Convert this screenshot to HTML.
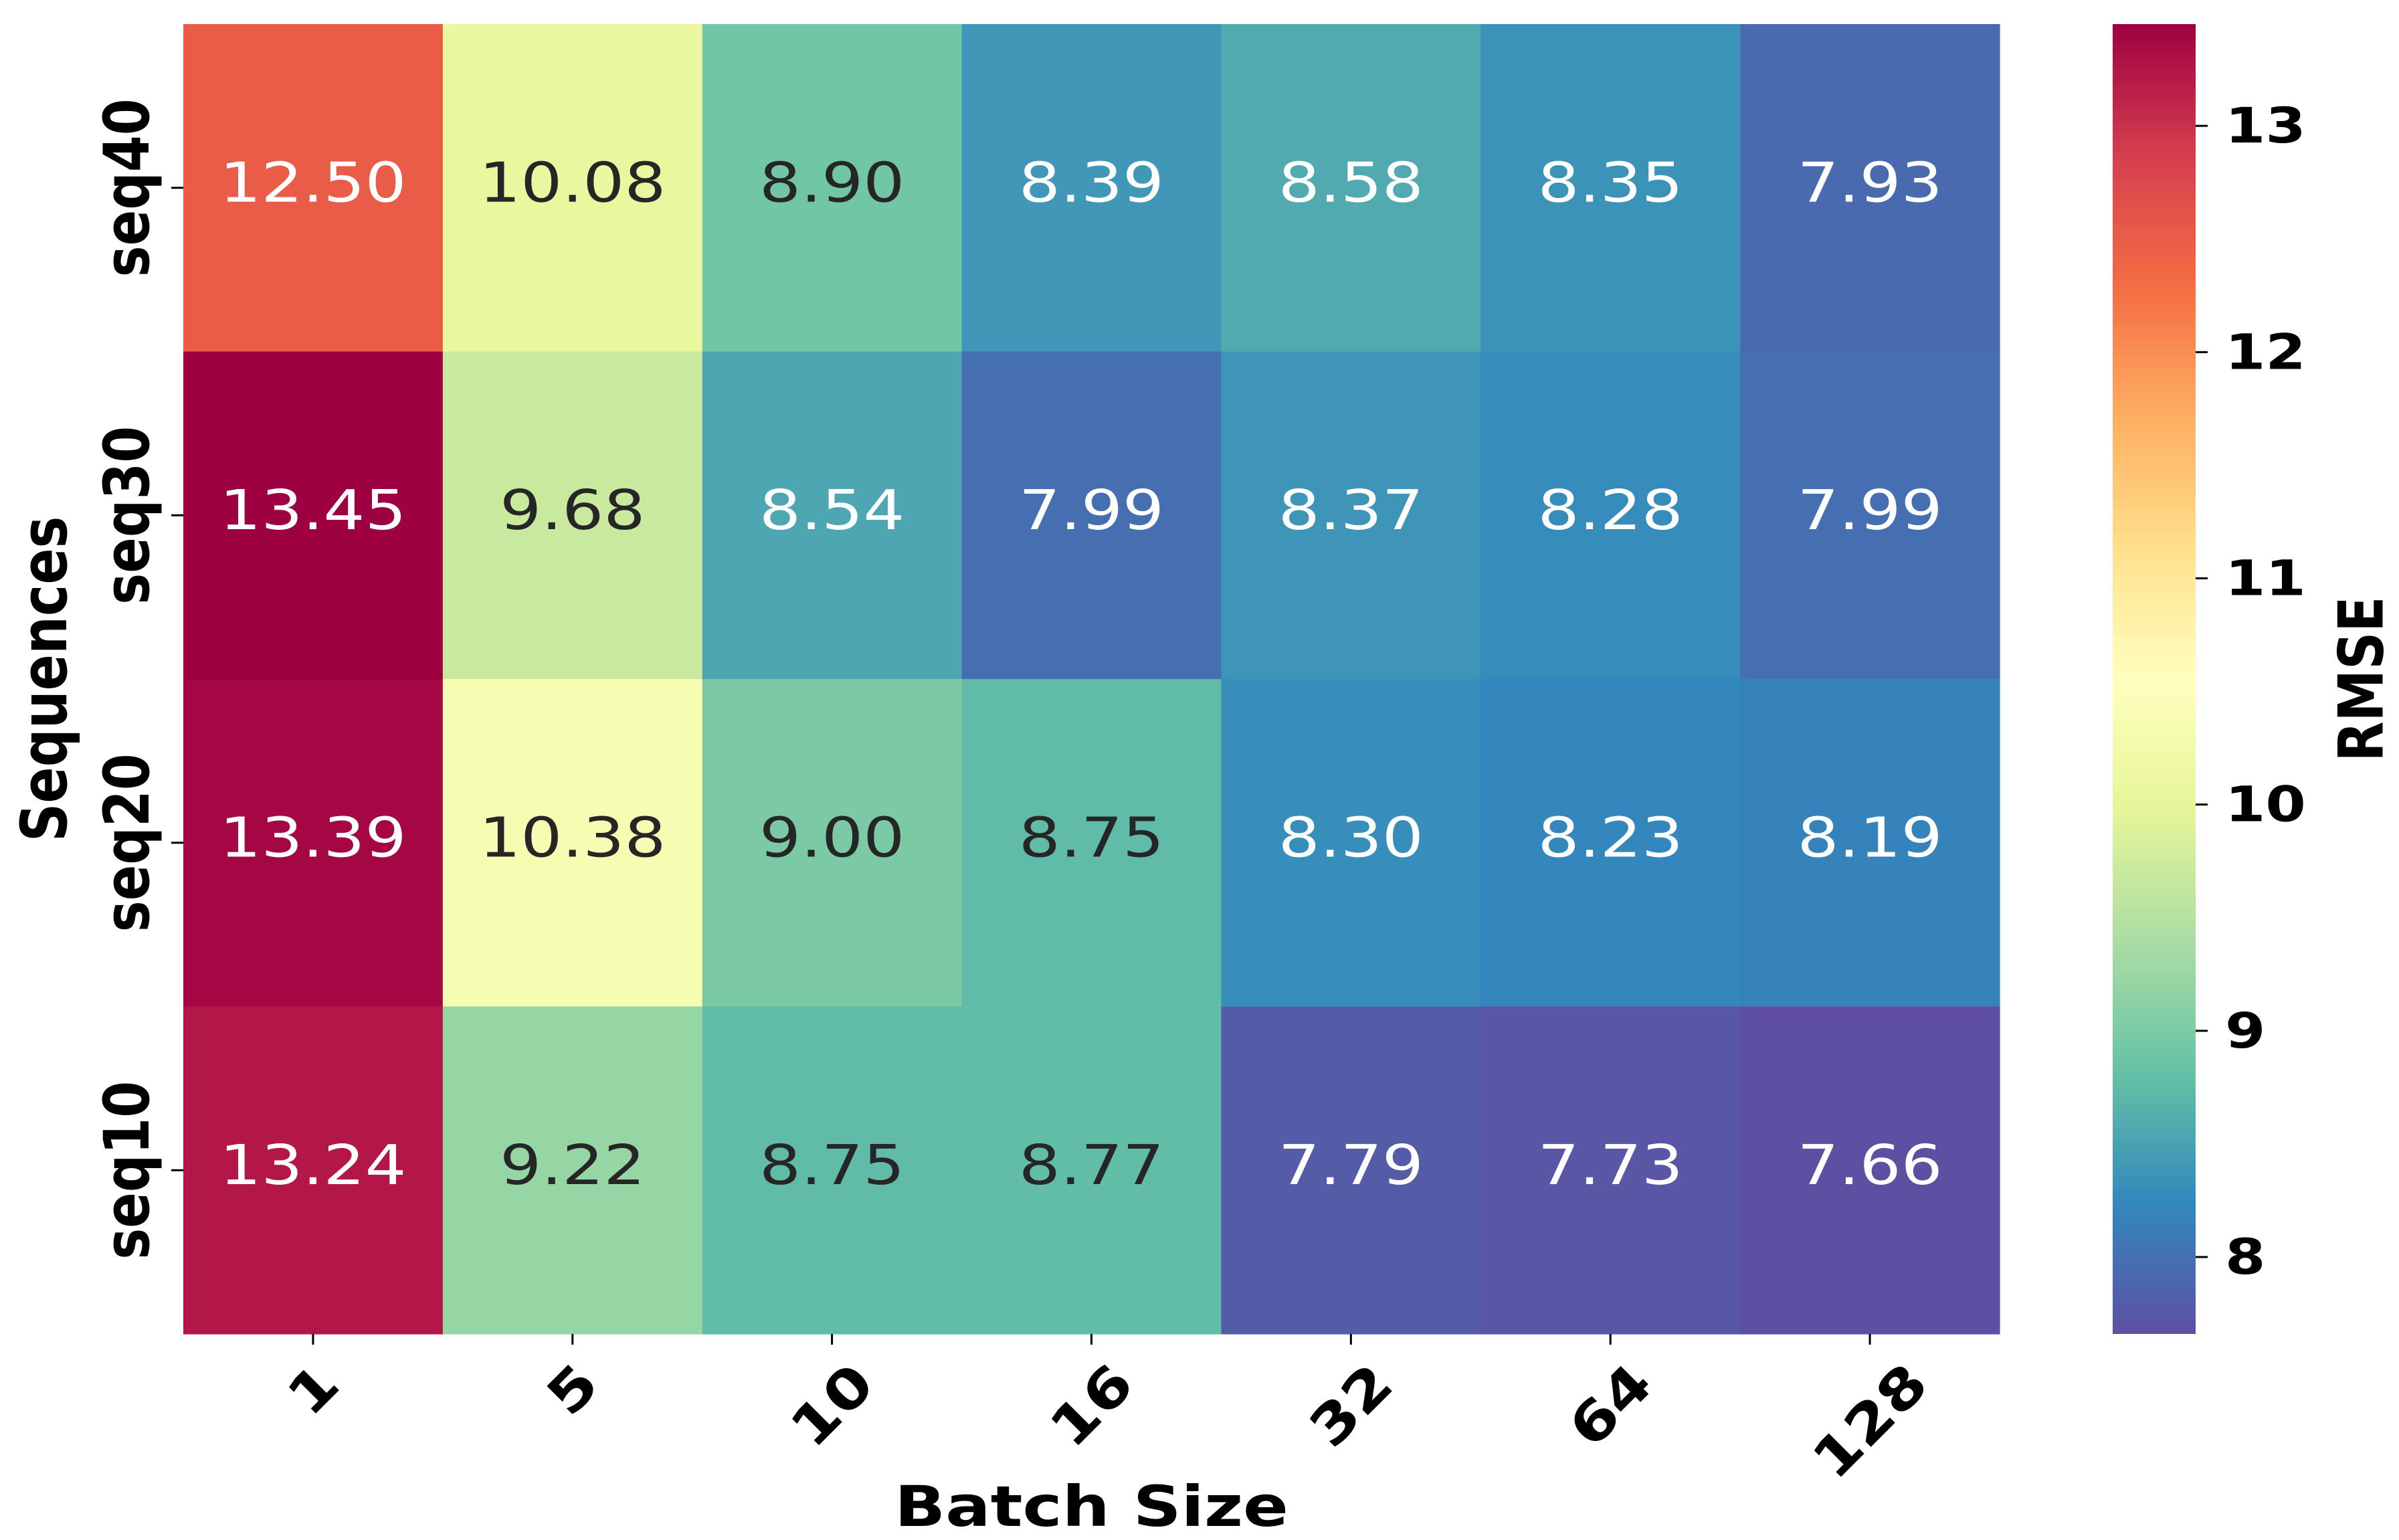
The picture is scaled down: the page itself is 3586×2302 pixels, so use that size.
<!DOCTYPE html>
<html><head><meta charset="utf-8"><style>
html,body{margin:0;padding:0;background:#fff}
svg{display:block}
text{font-family:"DejaVu Sans","Liberation Sans",sans-serif}
</style></head><body>
<svg id="chart" width="3586" height="2302" viewBox="0 0 3586 2302" xmlns="http://www.w3.org/2000/svg">
<defs><linearGradient id="cbgrad" x1="0" y1="1" x2="0" y2="0"></linearGradient></defs>
<g id="cells"></g>
<g id="annots"></g>
<g id="xaxis"></g>
<g id="yaxis"></g>
<g id="cbar"></g>
</svg>
<script>
const batchSizes = ["1","5","10","16","32","64","128"];
const sequences = ["seq40","seq30","seq20","seq10"];
const rmseSeq40 = [12.50,10.08,8.90,8.39,8.58,8.35,7.93];
const rmseSeq30 = [13.45,9.68,8.54,7.99,8.37,8.28,7.99];
const rmseSeq20 = [13.39,10.38,9.00,8.75,8.30,8.23,8.19];
const rmseSeq10 = [13.24,9.22,8.75,8.77,7.79,7.73,7.66];
const colorbarTicks = [8,9,10,11,12,13];

const rows = [rmseSeq40,rmseSeq30,rmseSeq20,rmseSeq10];
const NS="http://www.w3.org/2000/svg";
const X0=274,X1=2989,Y0=36,Y1=1994,SX=1.19;
const all=rows.flat();
const vmin=Math.min(...all), vmax=Math.max(...all);
const cw=(X1-X0)/batchSizes.length, ch=(Y1-Y0)/sequences.length;
const xPos=i=>X0+cw*i, yPos=j=>Y0+ch*j;
const CB0=3158,CB1=3282;
const cbY=v=>Y1-(v-vmin)/(vmax-vmin)*(Y1-Y0);
const stops=["#5e4fa2","#3288bd","#66c2a5","#abdda4","#e6f598","#ffffbf","#fee08b","#fdae61","#f46d43","#d53e4f","#9e0142"];
const hex=h=>[1,3,5].map(k=>parseInt(h.substr(k,2),16));
function cmap(v){let t=(v-vmin)/(vmax-vmin);t=Math.max(0,Math.min(1,t));const p=t*(stops.length-1);const i=Math.min(Math.floor(p),stops.length-2);const f=p-i;const a=hex(stops[i]),b=hex(stops[i+1]);return a.map((c,k)=>Math.round(c+(b[k]-c)*f));}
function lum(c){const l=c.map(x=>{x/=255;return x<=0.03928?x/12.92:Math.pow((x+0.055)/1.055,2.4)});return 0.2126*l[0]+0.7152*l[1]+0.0722*l[2];}
function el(tag,attrs,parent){const e=document.createElementNS(NS,tag);for(const k in attrs)e.setAttribute(k,attrs[k]);parent.appendChild(e);return e;}
const cells=document.getElementById('cells'),annots=document.getElementById('annots');
rows.forEach((row,j)=>row.forEach((v,i)=>{
  const c=cmap(v);
  const r=el('rect',{x:xPos(i),y:yPos(j),width:cw+0.6,height:ch+0.6,fill:`rgb(${c})`},cells);
  
  
  const t=el('text',{transform:`translate(${xPos(i)+cw/2},${yPos(j)+ch/2-7}) scale(${SX},1)`,'text-anchor':'middle','dominant-baseline':'central','font-size':82,fill:lum(c)>0.408?'#262626':'#ffffff'},annots);
  t.textContent=v.toFixed(2);
  
  
}));
const xa=document.getElementById('xaxis');
batchSizes.forEach((b,i)=>{
  const cx=xPos(i)+cw/2;
  const tk=el('line',{x1:cx,x2:cx,y1:Y1,y2:Y1+16,stroke:'#000','stroke-width':3},xa);
  
  
  const half=(b.length*67+58)*0.707/2;
  const t=el('text',{transform:`translate(${cx},${2033+half}) rotate(-45) scale(${SX},1)`,'text-anchor':'middle','dominant-baseline':'central','font-size':81,'font-weight':'bold',fill:'#000'},xa);
  t.textContent=b;
  
  
});
const xt=el('text',{transform:`translate(${(X0+X1)/2},2252) scale(${SX},1)`,'text-anchor':'middle','dominant-baseline':'central','font-size':84,'font-weight':'bold',fill:'#000'},xa);
xt.textContent='Batch Size';


const ya=document.getElementById('yaxis');
sequences.forEach((s,j)=>{
  const cy=yPos(j)+ch/2;
  const tk=el('line',{x1:X0-18,x2:X0,y1:cy,y2:cy,stroke:'#000','stroke-width':3},ya);
  
  
  const t=el('text',{transform:`translate(190,${cy}) scale(${SX},1) rotate(-90)`,'text-anchor':'middle','dominant-baseline':'central','font-size':79,'font-weight':'bold',fill:'#000'},ya);
  t.textContent=s;
  
  
});
const yt=el('text',{transform:`translate(66,${(Y0+Y1)/2}) scale(${SX},1) rotate(-90)`,'text-anchor':'middle','dominant-baseline':'central','font-size':80,'font-weight':'bold',fill:'#000'},ya);
yt.textContent='Sequences';


const g=document.getElementById('cbgrad');
for(let k=0;k<=40;k++){const v=vmin+(vmax-vmin)*k/40;el('stop',{offset:k/40,'stop-color':`rgb(${cmap(v)})`},g);}
const cb=document.getElementById('cbar');
const bar=el('rect',{x:CB0,y:Y0,width:CB1-CB0,height:Y1-Y0,fill:'url(#cbgrad)'},cb);


colorbarTicks.forEach(v=>{
  const y=cbY(v);
  const tk=el('line',{x1:CB1,x2:CB1+18,y1:y,y2:y,stroke:'#000','stroke-width':3},cb);
  
  
  const t=el('text',{transform:`translate(3326,${y}) scale(${SX},1)`,'text-anchor':'start','dominant-baseline':'central','font-size':73,'font-weight':'bold',fill:'#000'},cb);
  t.textContent=v;
  
  
});
const ct=el('text',{transform:`translate(3530,${(Y0+Y1)/2}) scale(${SX},1) rotate(-90)`,'text-anchor':'middle','dominant-baseline':'central','font-size':78,'font-weight':'bold',fill:'#000'},cb);
ct.textContent='RMSE';


</script>
</body></html>
